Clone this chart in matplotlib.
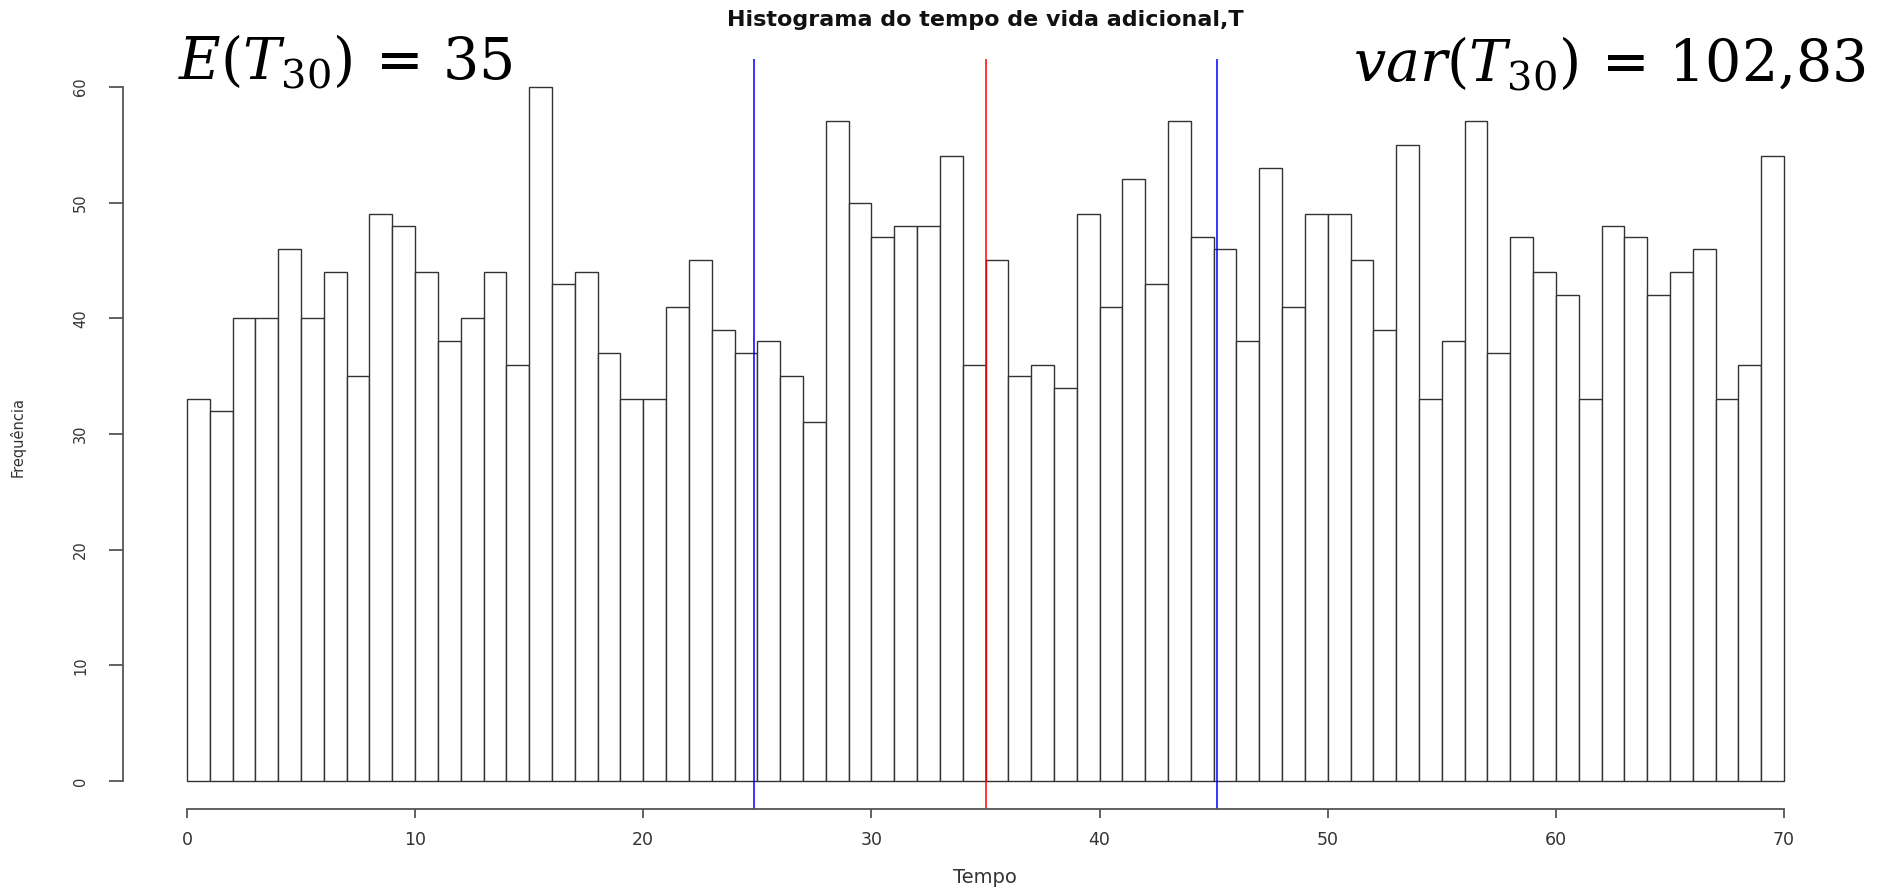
import matplotlib
matplotlib.use("Agg")
import matplotlib.pyplot as plt
import numpy as np

# ---- data ----
bin_edges = list(range(0, 71))
counts = [33, 32, 40, 40, 46, 40, 44, 35, 49, 48,
          44, 38, 40, 44, 36, 60, 43, 44, 37, 33,
          33, 41, 45, 39, 37, 38, 35, 31, 57, 50,
          47, 48, 48, 54, 36, 45, 35, 36, 34, 49,
          41, 52, 43, 57, 47, 46, 38, 53, 41, 49,
          49, 45, 39, 55, 33, 38, 57, 37, 47, 44,
          42, 33, 48, 47, 42, 44, 46, 33, 36, 54]
mean_line = 35.0
sd_lines = [24.86, 45.14]
x_ticks = [0, 10, 20, 30, 40, 50, 60, 70]
y_ticks = [0, 10, 20, 30, 40, 50, 60]
title = "Histograma do tempo de vida adicional,T"
xlabel = "Tempo"
ylabel = "Frequência"
left_note = r"$E(T_{30})\,=\,35$"
right_note = r"$var(T_{30})\,=\,102{,}83$"

plt.rcParams['font.family'] = ['DejaVu Sans']
plt.rcParams['mathtext.fontset'] = 'dejavuserif'

W, H = 1877, 888
fig = plt.figure(figsize=(W / 100, H / 100), dpi=100)
ax = fig.add_axes([123 / W, 1 - 809 / H, (1848 - 123) / W, (809 - 59) / H])

lefts = bin_edges[:-1]
widths = np.diff(bin_edges)
ax.bar(lefts, counts, width=widths, align='edge', facecolor='white',
       edgecolor='#333333', linewidth=1.0)

for x in sd_lines:
    ax.axvline(x, color='#0000FF', linewidth=1.1)
ax.axvline(mean_line, color='#FF0000', linewidth=1.1)

ax.set_xlim(-2.8, 72.8)
ax.set_ylim(-2.4, 62.4)
for s in ['top', 'right']:
    ax.spines[s].set_visible(False)
ax.spines['left'].set_bounds(0, 60)
ax.spines['bottom'].set_bounds(0, 70)
for s in ['left', 'bottom']:
    ax.spines[s].set_color('#555555')
    ax.spines[s].set_linewidth(1.3)

ax.set_xticks(x_ticks)
ax.set_yticks(y_ticks)
ax.set_xticklabels([str(v) for v in x_ticks], fontsize=12.5, color='#333333')
ax.set_yticklabels([str(v) for v in y_ticks], fontsize=10.5, color='#333333',
                   rotation=90, va='center')
ax.tick_params(axis='x', length=6.5, width=1.3, color='#555555', pad=9)
ax.tick_params(axis='y', length=10, width=1.3, color='#555555', pad=15)

fig.text(985 / W, 1 - 20 / H, title, ha='center', va='center',
         fontsize=16, fontweight='bold', color='#111111')
fig.text(985 / W, 1 - 877 / H, xlabel, ha='center', va='center',
         fontsize=14, color='#333333')
fig.text(18 / W, 1 - 437 / H, ylabel, ha='center', va='center',
         rotation=90, fontsize=10.5, color='#333333')

fig.text(178 / W, 1 - 78 / H, left_note, ha='left', va='baseline',
         fontsize=41, color='black')
fig.text(1866 / W, 1 - 80 / H, right_note, ha='right', va='baseline',
         fontsize=41, color='black')

fig.savefig("out.png", dpi=100)
